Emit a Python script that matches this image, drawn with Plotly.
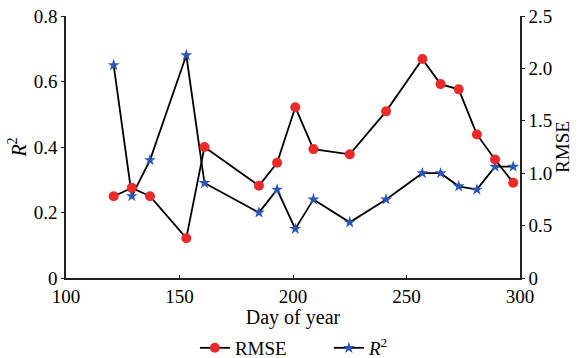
import plotly.graph_objects as go

days = [121, 129, 137, 153, 161, 185, 193, 201, 209, 225, 241, 257, 265, 273, 281, 289, 297]
rmse = [0.78, 0.86, 0.78, 0.38, 1.25, 0.88, 1.10, 1.63, 1.23, 1.18, 1.59, 2.09, 1.85, 1.80, 1.37, 1.13, 0.91]
r2 = [0.65, 0.25, 0.36, 0.68, 0.29, 0.20, 0.27, 0.15, 0.24, 0.17, 0.24, 0.32, 0.32, 0.28, 0.27, 0.34, 0.34]

x_ticks = [100, 150, 200, 250, 300]
left_ticks = [0, 0.2, 0.4, 0.6, 0.8]
left_text = ["0", "0.2", "0.4", "0.6", "0.8"]
right_ticks = [0, 0.5, 1.0, 1.5, 2.0, 2.5]
right_text = ["0", "0.5", "1.0", "1.5", "2.0", "2.5"]

FONT = "Liberation Serif, Times New Roman, Times, serif"

fig = go.Figure()
fig.add_trace(go.Scatter(
    x=days, y=rmse, name="RMSE", yaxis="y2", mode="lines+markers",
    line=dict(color="black", width=1.8),
    marker=dict(symbol="circle", size=10, color="#ec2a2a"),
))
fig.add_trace(go.Scatter(
    x=days, y=r2, name="<i>R</i><sup>2</sup>", mode="lines+markers",
    line=dict(color="black", width=1.8),
    marker=dict(symbol="star", size=9, color="#2a55b5"),
))

axis_common = dict(showgrid=False, zeroline=False, showline=True, linecolor="#222",
                   linewidth=1.5, tickcolor="#222", automargin=False,
                   tickfont=dict(family=FONT, size=19))

fig.update_layout(
    width=580, height=358,
    margin=dict(l=66, r=60, t=16, b=80),
    paper_bgcolor="white", plot_bgcolor="white",
    font=dict(family=FONT, size=19, color="black"),
    showlegend=True,
    legend=dict(orientation="h", x=0.336, xanchor="left", xref="container",
                y=0.028, yanchor="middle", yref="container",
                entrywidth=89, entrywidthmode="pixels",
                font=dict(family=FONT, size=19), traceorder="normal"),
    xaxis=dict(range=[100, 300], tickvals=x_ticks, ticks="inside", ticklen=3,
               title=dict(text="Day of year", standoff=0, font=dict(family=FONT, size=20)),
               **axis_common),
    yaxis=dict(range=[0, 0.8], tickvals=left_ticks, ticktext=left_text,
               ticks="outside", ticklen=3,
               title=dict(text="<i>R</i><sup>2</sup>", standoff=2, font=dict(family=FONT, size=20)),
               **axis_common),
    yaxis2=dict(range=[0, 2.5], tickvals=right_ticks, ticktext=right_text,
                ticks="outside", ticklen=3, overlaying="y", side="right",
                title=dict(text="RMSE", standoff=4, font=dict(family=FONT, size=19)),
                **axis_common),
)

fig.write_html("out.html", config={"displayModeBar": False},
               post_script="document.body.style.margin='0';")
